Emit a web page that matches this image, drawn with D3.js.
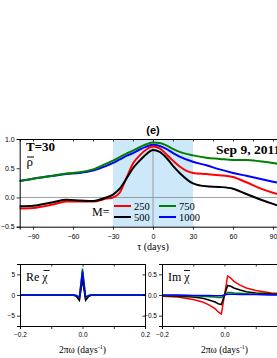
<!DOCTYPE html>
<html>
<head>
<meta charset="utf-8">
<script src="https://cdn.jsdelivr.net/npm/d3@7"></script>
<style>
  body { margin: 0; background: #fff; overflow: hidden; }
  text { fill: #000; }
</style>
</head>
<body>
<svg id="chart" width="277" height="358"></svg>
<script>
// main panel: lagged correlation vs tau (days)
const tau = [-100, -90, -75, -65, -55, -45, -35, -30, -25, -20, -15, -10, -5, 0, 5, 10, 15, 20, 30, 40, 50, 60, 70, 80, 90, 100];
const rho250 = [-0.19, -0.18, -0.12, -0.07, -0.07, -0.07, -0.02, 0.0, 0.08, 0.33, 0.58, 0.72, 0.82, 0.87, 0.84, 0.74, 0.63, 0.53, 0.42, 0.40, 0.38, 0.35, 0.26, 0.16, 0.08, 0.02];
const rho500 = [-0.15, -0.14, -0.08, -0.04, -0.05, -0.06, 0.0, 0.05, 0.15, 0.32, 0.50, 0.63, 0.74, 0.81, 0.78, 0.68, 0.54, 0.42, 0.24, 0.19, 0.18, 0.15, 0.06, -0.03, -0.11, -0.18];
const rho750 = [0.28, 0.32, 0.37, 0.41, 0.43, 0.48, 0.58, 0.63, 0.69, 0.75, 0.80, 0.86, 0.91, 0.94, 0.93, 0.89, 0.83, 0.78, 0.72, 0.68, 0.66, 0.64, 0.64, 0.62, 0.59, 0.55];
const rho1000 = [0.28, 0.32, 0.37, 0.40, 0.42, 0.46, 0.54, 0.59, 0.65, 0.71, 0.76, 0.82, 0.87, 0.90, 0.88, 0.83, 0.76, 0.70, 0.61, 0.55, 0.48, 0.42, 0.37, 0.32, 0.27, 0.22];

// bottom panels: spectrum vs 2*pi*omega
const omega = [-0.2, -0.15, -0.1, -0.07, -0.05, -0.03, -0.02, -0.01, 0, 0.01, 0.02, 0.03, 0.05, 0.07, 0.1, 0.15, 0.2];
const re250 = [0, 0, 0, 0, 0, 0, -0.2, -1.0, 4.6, -1.0, -0.2, 0, 0, 0, 0, 0, 0];
const re500 = [0, 0, 0, 0, 0, 0, -0.3, -1.3, 3.8, -1.3, -0.3, 0, 0, 0, 0, 0, 0];
const re750 = [0, 0, 0, 0, 0, 0, -0.1, -0.6, 6.4, -0.6, -0.1, 0, 0, 0, 0, 0, 0];
const re1000 = [0, 0, 0, 0, 0, 0, -0.1, -0.5, 5.7, -0.5, -0.1, 0, 0, 0, 0, 0, 0];
const im250 = [-0.03, -0.05, -0.11, -0.17, -0.24, -0.33, -0.41, -0.46, 0, 0.46, 0.41, 0.33, 0.24, 0.17, 0.11, 0.05, 0.03];
const im500 = [-0.02, -0.03, -0.05, -0.08, -0.12, -0.17, -0.21, -0.23, 0, 0.23, 0.21, 0.17, 0.12, 0.08, 0.05, 0.03, 0.02];
const im750 = [-0.01, -0.01, -0.02, -0.03, -0.04, -0.05, -0.06, -0.06, 0, 0.06, 0.06, 0.05, 0.04, 0.03, 0.02, 0.01, 0.01];
const im1000 = [0, 0, -0.01, -0.01, -0.01, -0.02, -0.02, -0.02, 0, 0.02, 0.02, 0.02, 0.01, 0.01, 0.01, 0, 0];

const mLabels = ["250", "500", "750", "1000"];
const colors = ["#ff0000", "#000000", "#008000", "#0000ff"];
const tauTicks = [-90, -60, -30, 0, 30, 60, 90];
const rhoTicks = [-0.5, 0.0, 0.5, 1.0];

const svg = d3.select("#chart");
const sans = "Arial, 'Liberation Sans', sans-serif";
const serif = "'Times New Roman', 'Liberation Serif', serif";

// ---------- main panel ----------
const x = d3.scaleLinear().domain([-100, 100]).range([19.7, 286.3]);
const y = d3.scaleLinear().domain([-0.5, 1.0]).range([226.7, 139]);

svg.append("rect")
    .attr("x", x(-30)).attr("y", y(1.0))
    .attr("width", x(30) - x(-30)).attr("height", y(-0.5) - y(1.0))
    .attr("fill", "#cde9f9");

svg.append("line")
    .attr("x1", x(-100)).attr("x2", x(100)).attr("y1", y(0)).attr("y2", y(0))
    .attr("stroke", "#888").attr("stroke-width", 0.8);
svg.append("line")
    .attr("x1", x(0)).attr("x2", x(0)).attr("y1", y(1)).attr("y2", y(-0.5))
    .attr("stroke", "#888").attr("stroke-width", 0.8);

const line = d3.line().x(d => x(d[0])).y(d => y(d[1])).curve(d3.curveMonotoneX);
[rho1000, rho750, rho250, rho500].forEach((s, k) => {
    const c = [colors[3], colors[2], colors[0], colors[1]][k];
    svg.append("path")
        .datum(tau.map((t, i) => [t, s[i]]))
        .attr("d", line)
        .attr("fill", "none").attr("stroke", c).attr("stroke-width", 2);
});

function styleAxis(g) {
    g.select(".domain").attr("stroke", "#000").attr("stroke-width", 1);
    g.selectAll(".tick line").attr("stroke", "#000").attr("stroke-width", 0.8);
    g.selectAll(".tick text").attr("font-family", sans).attr("font-size", 7).attr("fill", "#000");
}

svg.append("g").attr("transform", `translate(0,${y(-0.5)})`)
    .call(d3.axisBottom(x).tickValues(tauTicks).tickFormat(d3.format("d")).tickSizeOuter(0).tickSize(3).tickPadding(4))
    .call(styleAxis);
svg.append("g").attr("transform", `translate(0,${y(1.0)})`)
    .call(d3.axisBottom(x).tickValues(d3.range(-90, 101, 15)).tickFormat("").tickSizeOuter(0).tickSize(2.5))
    .call(styleAxis);
svg.append("g").attr("transform", `translate(${x(-100)},0)`)
    .call(d3.axisLeft(y).tickValues(rhoTicks).tickFormat(d3.format(".1f")).tickSizeOuter(0).tickSize(3).tickPadding(2))
    .call(styleAxis);

svg.append("text").attr("x", x(0)).attr("y", 134).attr("text-anchor", "middle")
    .attr("font-family", sans).attr("font-weight", "bold").attr("font-size", 11).text("(e)");
svg.append("text").attr("x", 26).attr("y", 151)
    .attr("font-family", serif).attr("font-weight", "bold").attr("font-size", 13).text("T=30");
svg.append("line").attr("x1", 27).attr("x2", 34).attr("y1", 157).attr("y2", 157)
    .attr("stroke", "#000").attr("stroke-width", 1);
svg.append("text").attr("x", 26.5).attr("y", 165.5)
    .attr("font-family", serif).attr("font-size", 13).text("ρ");
svg.append("text").attr("x", 216).attr("y", 154)
    .attr("font-family", serif).attr("font-weight", "bold").attr("font-size", 13.5).text("Sep 9, 2011");
svg.append("text").attr("x", x(0)).attr("y", 250).attr("text-anchor", "middle")
    .attr("font-family", serif).attr("font-size", 10).text("τ (days)");

// legend
svg.append("text").attr("x", 92).attr("y", 216)
    .attr("font-family", serif).attr("font-size", 12).text("M=");
const legendPos = [[114, 206], [114, 217], [159, 206], [159, 217]];
mLabels.forEach((m, i) => {
    const [lx, ly] = legendPos[i];
    svg.append("line").attr("x1", lx).attr("x2", lx + 17).attr("y1", ly).attr("y2", ly)
        .attr("stroke", colors[i]).attr("stroke-width", 2);
    svg.append("text").attr("x", lx + 20).attr("y", ly + 4)
        .attr("font-family", serif).attr("font-size", 10.5).text(m);
});

// ---------- bottom panels ----------
function spectrumPanel(x0, x1, yDom, yTicks, yFmt, series, label, xLabels) {
    const xs = d3.scaleLinear().domain([-0.2, 0.2]).range([x0, x1]);
    const ys = d3.scaleLinear().domain(yDom).range([326, 264]);
    const g = svg.append("g");
    const ln = d3.line().x(d => xs(d[0])).y(d => ys(d[1]));
    series.forEach((s, k) => {
        g.append("path")
            .datum(omega.map((w, i) => [w, s[i]]))
            .attr("d", ln)
            .attr("fill", "none").attr("stroke", colors[k]).attr("stroke-width", 1.5);
    });
    g.append("g").attr("transform", `translate(0,326)`)
        .call(d3.axisBottom(xs).tickValues([-0.2, -0.1, 0, 0.1, 0.2])
            .tickFormat(d => xLabels.includes(d) ? d3.format(".1f")(d) : "")
            .tickSizeOuter(0).tickSize(3).tickPadding(3))
        .call(styleAxis);
    g.append("g").attr("transform", `translate(0,264)`)
        .call(d3.axisBottom(xs).tickValues([-0.1, 0, 0.1]).tickFormat("").tickSizeOuter(0).tickSize(2.5))
        .call(styleAxis);
    g.append("g").attr("transform", `translate(${x0},0)`)
        .call(d3.axisLeft(ys).tickValues(yTicks).tickFormat(d3.format(yFmt)).tickSizeOuter(0).tickSize(3).tickPadding(2))
        .call(styleAxis);
    g.append("g").attr("transform", `translate(${x1},0)`)
        .call(d3.axisLeft(ys).tickValues(yTicks).tickFormat("").tickSizeOuter(0).tickSize(2.5))
        .call(styleAxis);
    g.selectAll(".tick text").attr("font-size", 6.5);
    // label with overbar on chi
    g.append("text").attr("x", x0 + 6).attr("y", 281)
        .attr("font-family", serif).attr("font-size", 12).text(label + " χ");
    const lw = label === "Re" ? 16.5 : 15;
    g.append("line").attr("x1", x0 + 6 + lw + 1).attr("x2", x0 + 6 + lw + 7).attr("y1", 270.5).attr("y2", 270.5)
        .attr("stroke", "#000").attr("stroke-width", 0.9);
    g.append("text").attr("x", xs(0)).attr("y", 353).attr("text-anchor", "middle")
        .attr("font-family", serif).attr("font-size", 9.5)
        .call(tx => {
            tx.append("tspan").text("2πω (days");
            tx.append("tspan").attr("font-size", 6).attr("dy", -4).text("-1");
            tx.append("tspan").attr("dy", 4).text(")");
        });
}

spectrumPanel(20, 145, [-7.5, 7.5], [-5, 0, 5], "d", [re250, re500, re750, re1000], "Re", [-0.2, 0, 0.2]);
spectrumPanel(162, 287, [-0.75, 0.75], [-0.5, 0, 0.5], ".1f", [im250, im500, im750, im1000], "Im", [-0.2, 0]);
</script>
</body>
</html>
